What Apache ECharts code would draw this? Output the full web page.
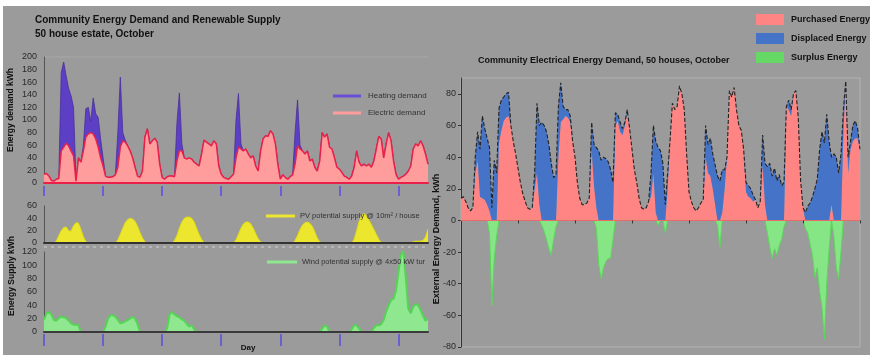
<!DOCTYPE html>
<html>
<head>
<meta charset="utf-8">
<script src="https://cdn.jsdelivr.net/npm/echarts@6/dist/echarts.min.js"></script>
<style>
html, body { margin: 0; padding: 0; background: #fff; }
#chart { width: 873px; height: 355px; }
</style>
</head>
<body>
<div id="chart"></div>
<script>
// left panel, hourly values (6.5 days)
const electricDemand = [
  14,15,11,4,3,6,7,51,57,63,
  59,51,43,3,40,33,51,73,78,80,
  78,70,57,40,27,11,9,9,10,13,
  25,57,67,65,59,51,40,25,11,9,
  19,73,86,62,67,71,65,30,9,6,
  10,11,11,10,35,51,51,40,38,40,
  38,33,30,27,46,68,65,62,59,67,
  62,27,14,9,7,6,10,14,40,57,
  54,51,54,46,40,43,27,19,51,70,
  75,74,83,78,62,30,6,13,9,6,
  10,13,30,59,54,51,46,51,35,38,
  25,19,35,80,73,78,57,54,40,25,
  22,17,11,9,6,11,25,51,33,27,
  30,27,30,25,35,54,74,70,40,62,
  80,67,35,14,6,9,11,14,19,27,
  54,62,59,67,59,46,30
]
const heatingDemand = [
  0,0,0,0,0,0,0,124,135,107,
  91,87,77,0,0,0,9,45,42,18,
  57,40,47,30,13,0,0,0,0,0,
  55,111,13,3,0,0,0,0,0,0,
  0,0,0,0,0,0,0,0,0,0,
  0,0,0,0,60,92,11,0,0,0,
  0,0,0,0,0,0,0,0,0,0,
  0,0,0,0,0,0,0,0,60,85,
  8,0,0,0,0,0,0,0,0,0,
  0,0,0,0,0,0,0,0,0,0,
  0,0,50,73,6,0,0,0,0,0,
  0,0,0,0,0,0,0,0,0,0,
  0,0,0,0,0,0,0,0,0,0,
  0,0,0,0,0,0,0,0,0,0,
  0,0,0,0,0,0,0,0,0,0,
  0,0,0,0,0,0,0
]
const pvSupply = [
  0,0,0,0,0,3,12,20,25,26,
  20,19,28,33,32,22,10,2,0,0,
  0,0,0,0,0,0,0,0,0,0,
  5,14,24,33,38,40,39,35,27,17,
  8,2,0,0,0,0,0,0,0,0,
  0,0,0,4,12,24,34,40,42,42,
  40,34,24,14,6,1,0,0,0,0,
  0,0,0,0,0,0,0,0,5,14,
  24,31,34,34,31,24,15,7,2,0,
  0,0,0,0,0,0,0,0,0,0,
  0,0,4,12,22,29,33,34,32,27,
  18,8,2,0,0,0,0,0,0,0,
  0,0,0,0,0,0,6,20,35,44,
  48,44,37,30,22,14,6,1,0,0,
  0,0,0,0,0,0,0,0,0,0,
  2,3,3,3,4,10,22
]
const windSupply = [
  18,28,30,26,18,17,21,23,22,21,
  17,13,11,11,10,0,0,0,0,0,
  0,0,0,0,0,8,20,25,25,23,
  18,13,14,16,18,20,23,20,12,0,
  0,0,0,0,0,0,0,0,0,0,
  5,26,30,26,24,22,19,17,12,8,
  10,4,0,0,0,0,0,0,0,0,
  0,0,0,0,0,0,0,0,0,0,
  0,0,0,0,0,0,0,0,0,0,
  0,0,0,0,0,0,0,0,0,0,
  0,0,0,0,0,0,0,0,0,0,
  0,0,0,5,10,8,0,0,0,0,
  0,0,0,0,0,4,10,10,5,0,
  0,0,0,0,6,10,10,12,18,30,
  40,48,50,62,90,115,122,80,35,28,
  38,42,40,33,24,17,20
]

// right panel, hourly values (7 days)
const purchasedEnergy = [
  14,15,12,8,6,8,30,38,15,14,
  13,10,6,0,0,0,49,57,63,65,
  66,60,50,42,33,24,17,12,8,7,
  8,20,30,10,0,0,0,0,0,0,
  0,40,62,64,66,65,62,50,40,24,
  14,10,10,11,14,45,22,8,0,0,
  0,0,0,0,0,60,63,56,54,60,
  68,58,45,32,24,14,8,7,8,12,
  15,30,5,0,0,0,0,20,50,74,
  70,72,85,80,70,42,18,12,8,6,
  8,11,13,40,30,28,20,10,0,0,
  5,20,40,82,78,84,70,60,57,45,
  18,15,14,12,13,8,12,35,10,0,
  0,0,0,0,0,0,0,72,70,66,
  80,82,65,25,8,0,0,0,0,0,
  0,0,0,0,0,0,10,0,0,0,
  0,55,88,30,45,50,52,52,45
]
const displacedEnergy = [
  0,0,0,0,0,0,10,18,30,52,
  45,42,40,8,38,30,22,19,15,15,
  15,0,0,0,0,0,0,0,0,0,
  0,10,44,50,62,60,56,48,36,27,
  29,32,25,8,4,5,4,0,0,0,
  0,0,0,0,0,17,26,38,44,38,
  40,39,37,32,24,8,4,6,4,2,
  2,0,0,0,0,0,0,0,0,0,
  15,30,45,46,44,36,10,10,0,0,
  0,0,0,0,0,0,0,0,0,0,
  0,0,0,20,18,24,22,25,28,25,
  27,12,0,0,0,0,0,0,0,0,
  6,7,6,4,0,0,0,19,26,34,
  36,28,33,25,29,22,24,0,6,4,
  0,0,0,0,0,5,9,11,15,20,
  26,45,56,49,67,50,30,42,40,30,
  42,15,0,10,5,10,11,6,0
]
const surplusEnergy = [
  0,0,0,0,0,0,0,0,0,0,
  0,0,-8,-54,-24,-10,0,0,0,0,
  0,0,0,0,0,0,0,0,0,0,
  0,0,0,0,-3,-7,-12,-18,-22,-12,
  -4,0,0,0,0,0,0,0,0,0,
  0,0,0,0,0,0,0,-5,-28,-37,
  -30,-26,-24,-24,-12,0,0,0,0,0,
  0,0,0,0,0,0,0,0,0,0,
  0,0,0,-3,0,0,-8,0,0,0,
  0,0,0,0,0,0,0,0,0,0,
  0,0,0,0,0,0,0,0,-3,-17,
  0,0,0,0,0,0,0,0,0,0,
  0,0,0,0,0,0,0,0,0,-8,
  -17,-24,-18,-22,-16,-12,-4,0,0,0,
  0,0,0,0,0,-5,-8,-15,-22,-36,
  -30,-45,-55,-75,-40,-18,0,-10,-30,-37,
  -20,0,0,0,0,0,0,0,0
]

const hoursLeft = electricDemand.map((v, i) => i)
const hoursRight = purchasedEnergy.map((v, i) => i)

const FONT = 'Liberation Sans, Arial, sans-serif'
const dayTick = i => i % 24 === 0

const chart = echarts.init(document.getElementById('chart'))

const yLabel = { fontSize: 9, color: '#2a2a2a', fontFamily: FONT, margin: 7 }
const yLine = { show: true, lineStyle: { color: '#555', width: 1 } }

chart.setOption({
  animation: false,
  backgroundColor: '#9b9b9b',
  title: [
    {
      text: 'Community Energy Demand and Renewable Supply\n50 house estate, October',
      left: 30,
      top: 8,
      textStyle: { fontSize: 10, fontWeight: 'bold', color: '#111', fontFamily: FONT, lineHeight: 14 }
    },
    {
      text: 'Community Electrical Energy Demand, 50 houses, October',
      left: 473,
      top: 51,
      textStyle: { fontSize: 9, fontWeight: 'bold', color: '#111', fontFamily: FONT }
    }
  ],
  legend: [
    {
      left: 328, top: 87, orient: 'vertical', itemGap: 9, itemWidth: 28, itemHeight: 3,
      icon: 'rect',
      textStyle: { fontSize: 8, color: '#333', fontFamily: FONT, padding: [0, 0, 0, 2] },
      data: [
        { name: 'Heating demand', itemStyle: { color: '#6a4fd6' } },
        { name: 'Electric demand', itemStyle: { color: '#ff9d9d' } }
      ]
    },
    {
      left: 261, top: 207, itemWidth: 29, itemHeight: 3, icon: 'rect',
      textStyle: { fontSize: 7.5, color: '#333', fontFamily: FONT },
      data: [{ name: 'PV potential supply @ 10m² / house', itemStyle: { color: '#ece62e' } }]
    },
    {
      left: 262, top: 253, itemWidth: 30, itemHeight: 3, icon: 'rect',
      textStyle: { fontSize: 7.5, color: '#333', fontFamily: FONT, width: 127, overflow: 'truncate', ellipsis: '' },
      data: [{ name: 'Wind potential supply @ 4x50 kW turbines', itemStyle: { color: '#8fe88f' } }]
    },
    {
      left: 751, top: 9, orient: 'vertical', itemGap: 8, itemWidth: 28, itemHeight: 11, icon: 'rect',
      textStyle: { fontSize: 9, fontWeight: 'bold', color: '#111', fontFamily: FONT, padding: [0, 0, 0, 2] },
      data: [
        { name: 'Purchased Energy', itemStyle: { color: '#ff8484' } },
        { name: 'Displaced Energy', itemStyle: { color: '#4573c8' } },
        { name: 'Surplus Energy', itemStyle: { color: '#66d866' } }
      ]
    }
  ],
  grid: [
    { left: 44, top: 57, width: 384, height: 126 },
    { left: 44, top: 206, width: 384, height: 37 },
    { left: 44, top: 252, width: 384, height: 80 },
    { left: 461, top: 78, width: 399, height: 269, show: true, borderColor: '#b2b2b2', borderWidth: 1 }
  ],
  xAxis: [
    {
      gridIndex: 0, type: 'category', data: hoursLeft, boundaryGap: false, position: 'bottom', z: 5,
      axisLine: { lineStyle: { color: '#e8204a', width: 2 } },
      axisTick: { show: false }, axisLabel: { show: false }
    },
    {
      gridIndex: 0, type: 'category', data: hoursLeft, boundaryGap: false, position: 'bottom', offset: 3,
      axisLine: { show: false, onZero: false },
      axisTick: { interval: dayTick, length: 10, lineStyle: { color: '#6a5fd0', width: 2 } },
      axisLabel: { show: false }
    },
    {
      gridIndex: 1, type: 'category', data: hoursLeft, boundaryGap: false, position: 'bottom', z: 5,
      axisLine: { lineStyle: { color: '#333', width: 2 } },
      axisTick: { show: false }, axisLabel: { show: false }
    },
    {
      gridIndex: 2, type: 'category', data: hoursLeft, boundaryGap: false, position: 'bottom', z: 5,
      axisLine: { lineStyle: { color: '#3a3a3a', width: 2 } },
      axisTick: { show: false }, axisLabel: { show: false }
    },
    {
      gridIndex: 2, type: 'category', data: hoursLeft, boundaryGap: false, position: 'bottom', offset: 2,
      axisLine: { show: false, onZero: false },
      axisTick: { interval: dayTick, length: 12, lineStyle: { color: '#6a5fd0', width: 2 } },
      axisLabel: { show: false }
    },
    {
      gridIndex: 3, type: 'category', data: hoursRight, boundaryGap: false, position: 'bottom', z: 5,
      axisLine: { onZero: true, lineStyle: { color: '#e86a6a', width: 1 } },
      axisTick: { interval: i => i > 0 && i % 24 === 0, length: 3, lineStyle: { color: '#333' } },
      axisLabel: { show: false }
    }
  ],
  yAxis: [
    { gridIndex: 0, type: 'value', min: 0, max: 200, interval: 20, axisLine: yLine, axisTick: { show: false }, splitLine: { show: false }, axisLabel: yLabel },
    { gridIndex: 1, type: 'value', min: 0, max: 60, interval: 20, axisLine: yLine, axisTick: { show: false }, splitLine: { show: false }, axisLabel: yLabel },
    { gridIndex: 2, type: 'value', min: 0, max: 120, interval: 20, axisLine: yLine, axisTick: { show: false }, splitLine: { show: false }, axisLabel: yLabel },
    {
      gridIndex: 3, type: 'value', min: -80, max: 90, interval: 20,
      axisLine: { show: true, lineStyle: { color: '#333', width: 1 } },
      axisTick: { show: true, length: 3, lineStyle: { color: '#333' } },
      splitLine: { show: false },
      axisLabel: { fontSize: 9, color: '#2a2a2a', fontFamily: FONT, margin: 5, showMaxLabel: false }
    }
  ],
  series: [
    {
      name: 'Electric demand', type: 'line', xAxisIndex: 0, yAxisIndex: 0, stack: 'demand',
      data: electricDemand, symbol: 'none', z: 3,
      lineStyle: { color: '#e8204a', width: 1.5 },
      itemStyle: { color: '#ff9d9d' },
      areaStyle: { color: '#ff9d9d', opacity: 1 }
    },
    {
      name: 'Heating demand', type: 'line', xAxisIndex: 0, yAxisIndex: 0, stack: 'demand',
      data: heatingDemand, symbol: 'none', z: 2,
      lineStyle: { color: '#4a2f9a', width: 0.8 },
      itemStyle: { color: '#6a4fd6' },
      areaStyle: { color: '#5c3fc4', opacity: 1 }
    },
    {
      name: 'PV potential supply @ 10m² / house', type: 'line', xAxisIndex: 2, yAxisIndex: 1,
      data: pvSupply, symbol: 'none',
      lineStyle: { color: '#e2dc10', width: 1 },
      itemStyle: { color: '#ece62e' },
      areaStyle: { color: '#ece62e', opacity: 1 }
    },
    {
      name: 'Wind potential supply @ 4x50 kW turbines', type: 'line', xAxisIndex: 3, yAxisIndex: 2,
      data: windSupply, symbol: 'none',
      lineStyle: { color: '#55d455', width: 2 },
      itemStyle: { color: '#8fe88f' },
      areaStyle: { color: '#8fe88f', opacity: 1 }
    },
    {
      name: 'Purchased Energy', type: 'line', xAxisIndex: 5, yAxisIndex: 3, stack: 'ext',
      data: purchasedEnergy, symbol: 'none',
      lineStyle: { opacity: 0, width: 0 },
      itemStyle: { color: '#ff8484' },
      areaStyle: { color: '#ff8484', opacity: 1 }
    },
    {
      name: 'Displaced Energy', type: 'line', xAxisIndex: 5, yAxisIndex: 3, stack: 'ext',
      data: displacedEnergy, symbol: 'none', z: 3,
      lineStyle: { color: '#222', width: 1.1, type: [4, 2] },
      itemStyle: { color: '#4573c8' },
      areaStyle: { color: '#4573c8', opacity: 1 }
    },
    {
      name: 'Surplus Energy', type: 'line', xAxisIndex: 5, yAxisIndex: 3,
      data: surplusEnergy, symbol: 'none',
      lineStyle: { color: '#5cd65c', width: 1 },
      itemStyle: { color: '#66d866' },
      areaStyle: { color: '#86e686', opacity: 1 }
    }
  ],
  graphic: [
    { type: 'rect', shape: { x: 0, y: 0, width: 873, height: 6 }, style: { fill: '#fff' }, z: 100 },
    { type: 'rect', shape: { x: 0, y: 0, width: 3, height: 355 }, style: { fill: '#fff' }, z: 100 },
    { type: 'rect', shape: { x: 870, y: 0, width: 3, height: 355 }, style: { fill: '#fff' }, z: 100 },
    { type: 'line', shape: { x1: 44, y1: 57, x2: 428, y2: 57 }, style: { stroke: '#a8a8a8', lineWidth: 1 } },
    { type: 'line', shape: { x1: 44, y1: 247, x2: 428, y2: 247 }, style: { stroke: '#cfcfcf', lineWidth: 1, lineDash: [3, 4] } },
    {
      type: 'text', x: 11, y: 110, rotation: Math.PI / 2,
      style: { text: 'Energy demand kWh', font: 'bold 8.5px ' + FONT, fill: '#111', textAlign: 'center', textVerticalAlign: 'middle' }
    },
    {
      type: 'text', x: 12, y: 276, rotation: Math.PI / 2,
      style: { text: 'Energy Supply kWh', font: 'bold 8.5px ' + FONT, fill: '#111', textAlign: 'center', textVerticalAlign: 'middle' }
    },
    {
      type: 'text', x: 437, y: 239, rotation: Math.PI / 2,
      style: { text: 'External Energy Demand, kWh', font: 'bold 9px ' + FONT, fill: '#111', textAlign: 'center', textVerticalAlign: 'middle' }
    },
    {
      type: 'text', x: 248, y: 348,
      style: { text: 'Day', font: 'bold 8px ' + FONT, fill: '#111', textAlign: 'center', textVerticalAlign: 'middle' }
    }
  ]
})
</script>
</body>
</html>
